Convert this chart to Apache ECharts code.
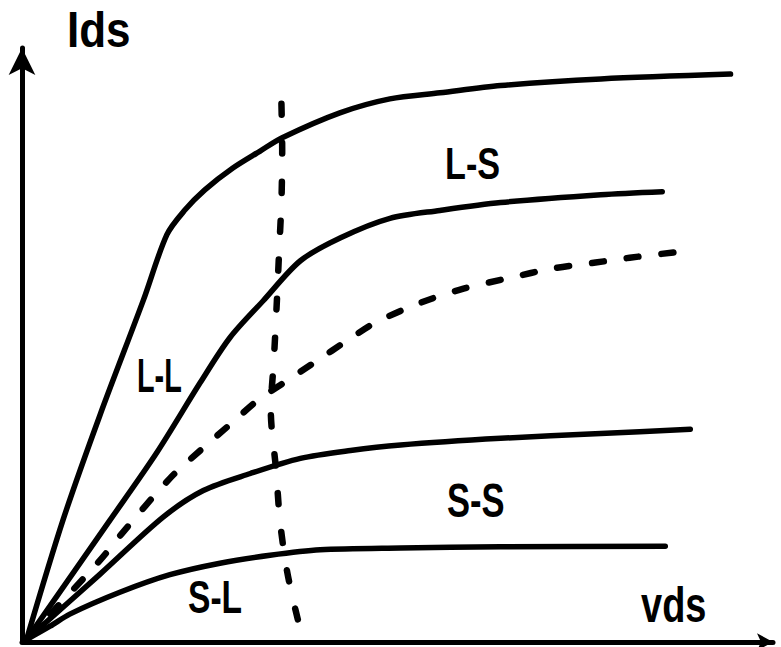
<!DOCTYPE html>
<html>
<head>
<meta charset="utf-8">
<title>Ids – vds</title>
<script src="https://cdn.jsdelivr.net/npm/echarts@6/dist/echarts.min.js"></script>
<style>
  html, body { margin: 0; padding: 0; background: #ffffff; }
  #chart { width: 781px; height: 647px; }
</style>
</head>
<body>
<div id="chart"></div>
<script>
// Output characteristics, [vds, Ids] in arbitrary units
const curveLL = [[0.06, 0.04], [0.54, 2.01], [1.03, 3.75], [1.60, 5.64], [1.91, 6.72], [2.15, 7.13],
  [2.41, 7.46], [2.78, 7.82], [3.14, 8.10], [3.43, 8.32], [4.19, 8.73], [4.85, 8.96], [5.51, 9.06],
  [6.31, 9.18], [7.63, 9.29], [9.34, 9.37]];
const curveLS = [[0.06, 0.04], [1.16, 2.01], [1.78, 3.13], [2.35, 4.28], [2.74, 5.02], [3.18, 5.63],
  [3.67, 6.29], [4.20, 6.67], [4.85, 6.99], [5.51, 7.12], [6.31, 7.25], [7.63, 7.38], [8.44, 7.43]];
const curveMid = [[0.06, 0.04], [1.03, 1.35], [1.33, 1.81], [1.95, 2.70], [2.35, 3.16], [2.77, 3.62],
  [3.11, 3.99], [3.48, 4.30], [3.84, 4.60], [4.33, 5.01], [4.66, 5.27], [5.26, 5.60],
  [5.82, 5.83], [6.44, 6.01], [6.98, 6.16], [7.56, 6.26], [8.01, 6.34], [8.61, 6.43]];
const curveSS = [[0.06, 0.04], [1.03, 1.12], [1.86, 2.06], [2.39, 2.50], [3.01, 2.78], [3.67, 3.03],
  [4.33, 3.16], [4.99, 3.25], [6.31, 3.36], [7.63, 3.44], [8.81, 3.51]];
const curveSL = [[0.06, 0.04], [0.37, 0.26], [0.63, 0.46], [1.29, 0.82], [1.95, 1.11], [2.61, 1.30],
  [3.27, 1.43], [3.93, 1.52], [4.99, 1.55], [6.31, 1.57], [8.48, 1.58]];
// Boundary between the linear and saturation regions
const saturationEdge = [[3.42, 8.88], [3.43, 8.11], [3.42, 7.28], [3.39, 6.46], [3.36, 5.63],
  [3.32, 4.65], [3.28, 3.82], [3.35, 2.83], [3.40, 2.01], [3.48, 1.27], [3.56, 0.77], [3.67, 0.20]];

const axisNames = ['Ids', 'vds'];
const curveLabels = ['L-L', 'L-S', 'S-S', 'S-L'];

const INK = '#000000';
const FONT = '"Liberation Sans", Arial, sans-serif';

function solid(name, data) {
  return {
    type: 'line', name, data, smooth: 0.3, symbol: 'none', silent: true,
    lineStyle: { color: INK, width: 5.5, cap: 'round', join: 'round' }
  };
}
function dashed(name, data, dash) {
  return {
    type: 'line', name, data, smooth: 0.3, symbol: 'none', silent: true,
    lineStyle: { color: INK, width: 6.5, type: dash, cap: 'round', join: 'round' }
  };
}
function label(text, x, y, size, sx) {
  return {
    type: 'text', x, y, scaleX: sx, silent: true,
    style: { text, fill: INK, font: 'bold ' + size + 'px ' + FONT, verticalAlign: 'top' }
  };
}

const hiddenAxis = {
  axisTick: { show: false }, axisLabel: { show: false }, splitLine: { show: false }
};

const chart = echarts.init(document.getElementById('chart'), null, { renderer: 'svg' });
chart.setOption({
  backgroundColor: '#ffffff',
  animation: false,
  grid: { left: 22, right: 8, top: 48, bottom: 5, containLabel: false },
  xAxis: Object.assign({
    type: 'value', min: 0, max: 9.9,
    axisLine: { show: true, onZero: false, symbol: ['none', 'arrow'], symbolSize: [13, 16],
      lineStyle: { color: INK, width: 5 } }
  }, hiddenAxis),
  yAxis: Object.assign({
    type: 'value', min: 0, max: 9.8,
    axisLine: { show: true, onZero: false, symbol: ['none', 'arrow'], symbolSize: [20, 27],
      lineStyle: { color: INK, width: 5 } }
  }, hiddenAxis),
  series: [
    solid(curveLabels[0], curveLL),
    solid(curveLabels[1], curveLS),
    dashed('mid', curveMid, [12, 23]),
    solid(curveLabels[2], curveSS),
    solid(curveLabels[3], curveSL),
    dashed('saturation', saturationEdge, [11, 28])
  ],
  graphic: [
    label(axisNames[0], 67, 4, 50, 0.88),
    label(axisNames[1], 641, 580, 50, 0.76),
    label(curveLabels[0], 137, 351, 48, 0.6),
    label(curveLabels[1], 445, 141, 45, 0.76),
    label(curveLabels[2], 447, 476, 48, 0.72),
    label(curveLabels[3], 188, 575, 46, 0.73)
  ]
});
</script>
</body>
</html>
